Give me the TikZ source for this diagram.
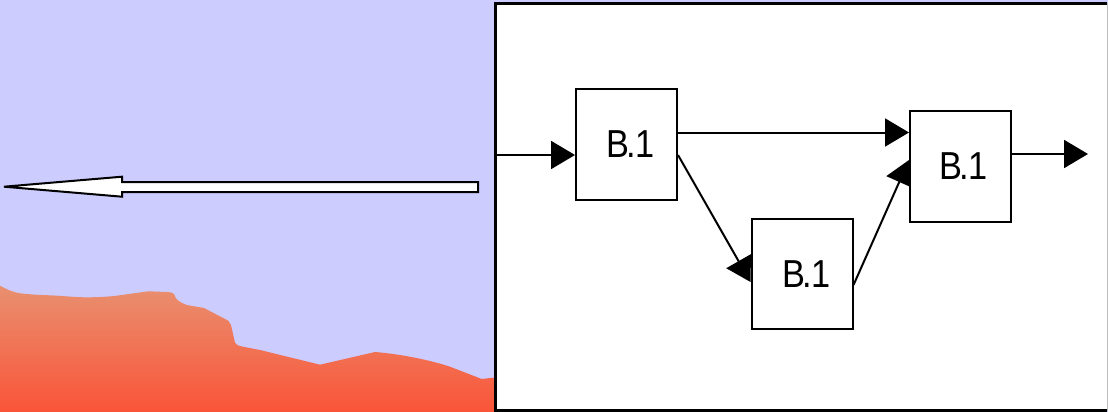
\documentclass[tikz,border=0pt]{standalone}
\usepackage{fontspec}
\usepackage{graphicx}
\setmainfont{Liberation Sans}
\usetikzlibrary{arrows.meta}
\pgfdeclarelayer{back}
\pgfdeclarelayer{wires}
\pgfsetlayers{back,wires,main}
\definecolor{sky}{RGB}{204,204,255}
\definecolor{hilltop}{RGB}{232,144,112}
\definecolor{hillbase}{RGB}{250,84,56}
\definecolor{rightedge}{RGB}{190,190,190}
% narrow, tightly set block label
\newcommand{\blocklabel}{\scalebox{0.88}[1]{B\kern-2.5pt.\kern-1pt 1}}

\begin{document}
\begin{tikzpicture}[x=1pt,y=-1pt,
  block/.style={draw=black, line width=2pt, fill=white,
    minimum width=101pt, minimum height=110.5pt, inner sep=0pt,
    font=\fontsize{39}{39}\selectfont},
  wire/.style={draw=black, line width=2pt, -{Triangle[length=24pt,width=28pt]}},
  pointer/.style={draw=black, line width=2pt, fill=white, line join=miter},
]
\useasboundingbox (0,0) rectangle (1108,412);

\begin{pgfonlayer}{back}
  % sky
  \fill[sky] (0,0) rectangle (1108,412);
  % hills
  \shade[top color=hilltop, bottom color=hillbase]
    (0,285.7) .. controls (8,290) and (14,292.5) .. (20,293.3)
    .. controls (30,294.5) and (40,295) .. (50,295.3)
    .. controls (65,296) and (75,297.3) .. (86.7,297.3)
    .. controls (100,297.3) and (110,296.5) .. (116.7,295.7)
    -- (148.3,291.3) -- (166.7,292)
    .. controls (172,292.3) and (174,293) .. (174.5,295)
    .. controls (175.5,299) and (178,301.5) .. (186.7,305)
    -- (204,308) -- (228.3,320.7)
    .. controls (230,322) and (230.5,323) .. (231,325)
    -- (235,342.7)
    .. controls (236.5,345) and (238,345.5) .. (242,346.5)
    -- (260,350) -- (320,364.7) -- (375,352)
    .. controls (400,354) and (430,360) .. (450,366.7)
    -- (481.7,379) -- (497,377.3) -- (497,412) -- (0,412) -- cycle;
  % left-pointing outline arrow
  \draw[pointer] (4,186.7) -- (122,176.7) -- (122,182) -- (478,182)
    -- (478,192) -- (122,192) -- (122,196.7) -- cycle;
  % diagram panel
  \fill[white] (495,3.5) rectangle (1107,410.5);
  \draw[rightedge, line width=1pt] (1107,3.5) -- (1107,410.5);
  \draw[black, line width=3pt] (1107,3.5) -- (495,3.5) -- (495,410.5) -- (1107,410.5);
\end{pgfonlayer}

% blocks
\node[block] (b1) at (626.5,144.5) {\hspace*{8pt}\blocklabel};
\node[block] (b2) at (802,274) {\hspace*{9pt}\blocklabel};
\node[block] (b3) at (960.5,166.5) {\hspace*{6pt}\blocklabel};

% connections
\begin{pgfonlayer}{wires}
  \coordinate (src) at (496,155);
  \draw[wire] (src) -- (src -| b1.west);
  \coordinate (o1) at ([yshift=12pt]b1.east);
  \draw[wire] (o1) -- (o1 -| b3.west);
  \draw[wire] ([yshift=-10.5pt]b1.east) -- ([yshift=-8pt]b2.west);
  \draw[wire] ([yshift=-11pt]b2.east) -- ([yshift=6.5pt]b3.west);
  \coordinate (sink) at (1088,154);
  \draw[wire] (sink -| b3.east) -- (sink);
\end{pgfonlayer}
\end{tikzpicture}
\end{document}
